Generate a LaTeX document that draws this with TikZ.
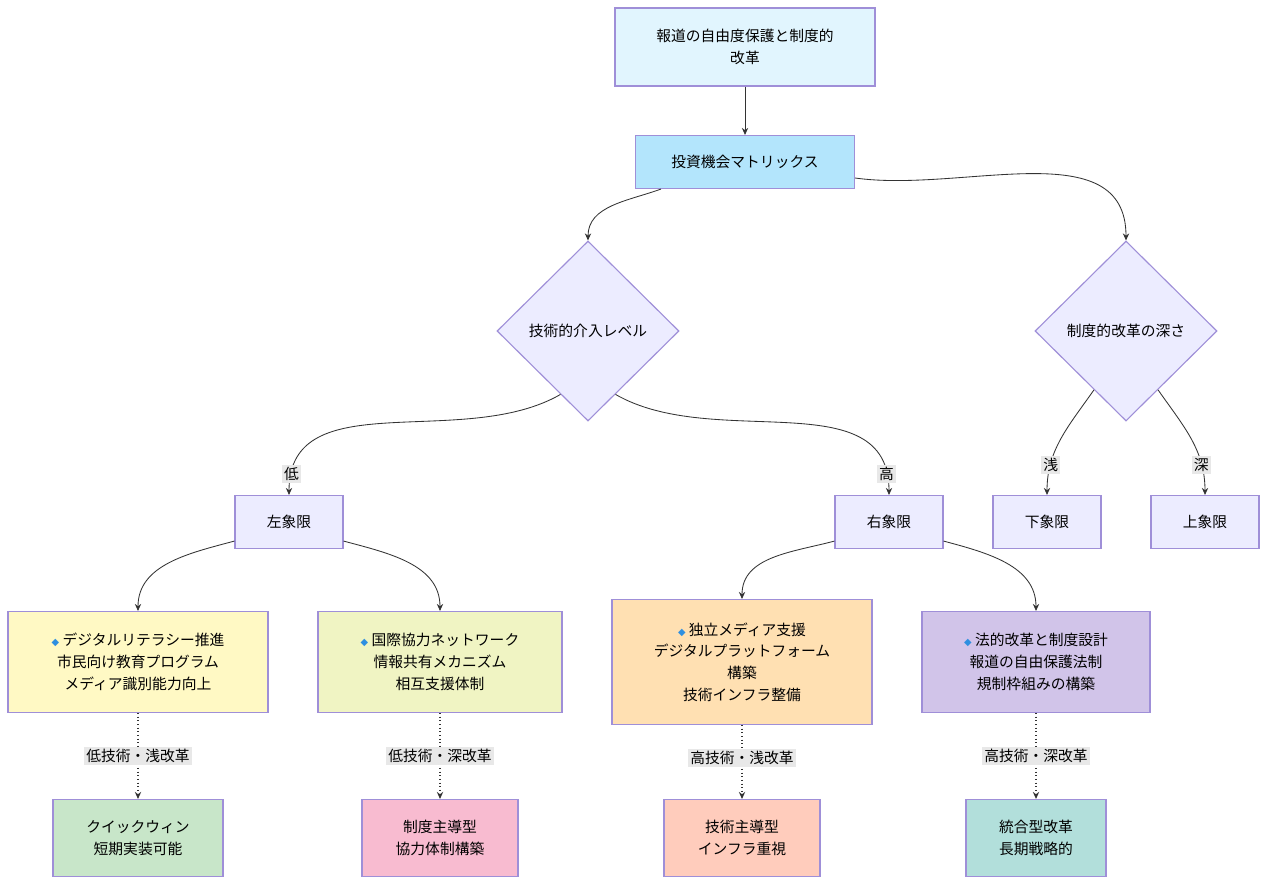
\documentclass[tikz,border=0pt]{standalone}
\usepackage{fontspec}
\setmainfont{Noto Sans CJK JP}
\newfontfamily\symfont{DejaVu Sans}
\usetikzlibrary{shapes.geometric,arrows.meta,calc}
\definecolor{strk}{HTML}{9F8FD8}
\definecolor{lineC}{HTML}{333333}
\definecolor{cTop}{HTML}{E1F5FE}
\definecolor{cMx}{HTML}{B3E5FC}
\definecolor{cLav}{HTML}{ECECFF}
\definecolor{cA}{HTML}{FFF9C4}
\definecolor{cB}{HTML}{F0F4C3}
\definecolor{cC}{HTML}{FFE0B2}
\definecolor{cD}{HTML}{D1C4E9}
\definecolor{cE}{HTML}{C8E6C9}
\definecolor{cF}{HTML}{F8BBD0}
\definecolor{cG}{HTML}{FFCCBC}
\definecolor{cH}{HTML}{B2DFDB}
\definecolor{cLb}{HTML}{E8E8E8}
\definecolor{cIc}{HTML}{2E8FE0}
\newcommand{\dia}{{\symfont\color{cIc}\scriptsize ◆}\ }
\begin{document}
\begin{tikzpicture}[x=0.025cm,y=-0.025cm,
  font=\fontsize{10.5}{15.5}\selectfont,
  bx/.style={draw=strk,line width=0.8pt,align=center,inner sep=0pt},
  dmd/.style={draw=strk,line width=0.8pt,diamond,fill=cLav,minimum width=182*0.025cm,minimum height=180*0.025cm,inner sep=0pt},
  ar/.style={draw=lineC,line width=0.6pt,-{Stealth[length=5pt,width=4.5pt]}},
  da/.style={ar,dotted,line width=0.9pt},
  lb/.style={fill=cLb,inner sep=1.5pt,font=\fontsize{10.5}{12}\selectfont}]
\useasboundingbox (0,0) rectangle (1267,886);
\fill[white] (0,0) rectangle (1267,886);
\node[bx,fill=cTop,minimum width=260*0.025cm,minimum height=78*0.025cm] (top) at (745,47) {報道の自由度保護と制度的\\改革};
\node[bx,fill=cMx,minimum width=219*0.025cm,minimum height=53*0.025cm] (mx) at (745,162) {投資機会マトリックス};
\node[dmd] (d1) at (588,331) {技術的介入レベル};
\node[dmd] (d2) at (1126,331) {制度的改革の深さ};
\foreach \n/\x/\t in {lq/289/左象限,rq/889/右象限,dq/1047/下象限,uq/1205/上象限}
  \node[bx,fill=cLav,minimum width=108*0.025cm,minimum height=53*0.025cm] (\n) at (\x,522) {\t};
\node[bx,fill=cA,minimum width=260*0.025cm,minimum height=101*0.025cm] (A) at (138,662) {\dia デジタルリテラシー推進\\市民向け教育プログラム\\メディア識別能力向上};
\node[bx,fill=cB,minimum width=244*0.025cm,minimum height=101*0.025cm] (B) at (440,662) {\dia 国際協力ネットワーク\\情報共有メカニズム\\相互支援体制};
\node[bx,fill=cC,minimum width=260*0.025cm,minimum height=125*0.025cm] (C) at (742,662) {\dia 独立メディア支援\\デジタルプラットフォーム\\構築\\技術インフラ整備};
\node[bx,fill=cD,minimum width=228*0.025cm,minimum height=101*0.025cm] (D) at (1036,662) {\dia 法的改革と制度設計\\報道の自由保護法制\\規制枠組みの構築};
\node[bx,fill=cE,minimum width=170*0.025cm,minimum height=77*0.025cm] (E) at (138,838) {クイックウィン\\短期実装可能};
\node[bx,fill=cF,minimum width=156*0.025cm,minimum height=77*0.025cm] (F) at (440,838) {制度主導型\\協力体制構築};
\node[bx,fill=cG,minimum width=156*0.025cm,minimum height=77*0.025cm] (G) at (742,838) {技術主導型\\インフラ重視};
\node[bx,fill=cH,minimum width=140*0.025cm,minimum height=77*0.025cm] (H) at (1036,838) {統合型改革\\長期戦略的};
\draw[ar] (top) -- (mx);
\draw[ar] ($(mx.south west)+(26,0)$) to[out=200,in=90] (d1.north);
\draw[ar] ($(mx.east)+(0,16)$) to[out=-8,in=90] (d2.north);
\draw[ar] ($(d1.west)!0.7!(d1.south)$) to[out=210,in=90] node[lb,pos=0.93]{低} (lq.north);
\draw[ar] ($(d1.east)!0.7!(d1.south)$) to[out=-30,in=90] node[lb,pos=0.93]{高} (rq.north);
\draw[ar] ($(d2.west)!0.65!(d2.south)$) to[out=235,in=90] node[lb,pos=0.75]{浅} (dq.north);
\draw[ar] ($(d2.east)!0.65!(d2.south)$) to[out=-55,in=90] node[lb,pos=0.75]{深} (uq.north);
\draw[ar] ($(lq.south west)+(0,-8)$) to[out=195,in=90] (A.north);
\draw[ar] ($(lq.south east)+(0,-8)$) to[out=-15,in=90] (B.north);
\draw[ar] ($(rq.south west)+(0,-8)$) to[out=195,in=90] (C.north);
\draw[ar] ($(rq.south east)+(0,-8)$) to[out=-15,in=90] (D.north);
\draw[da] (A) -- node[lb]{低技術・浅改革} (E);
\draw[da] (B) -- node[lb]{低技術・深改革} (F);
\draw[da] (C) -- node[lb,pos=0.45]{高技術・浅改革} (G);
\draw[da] (D) -- node[lb]{高技術・深改革} (H);
\end{tikzpicture}
\end{document}
